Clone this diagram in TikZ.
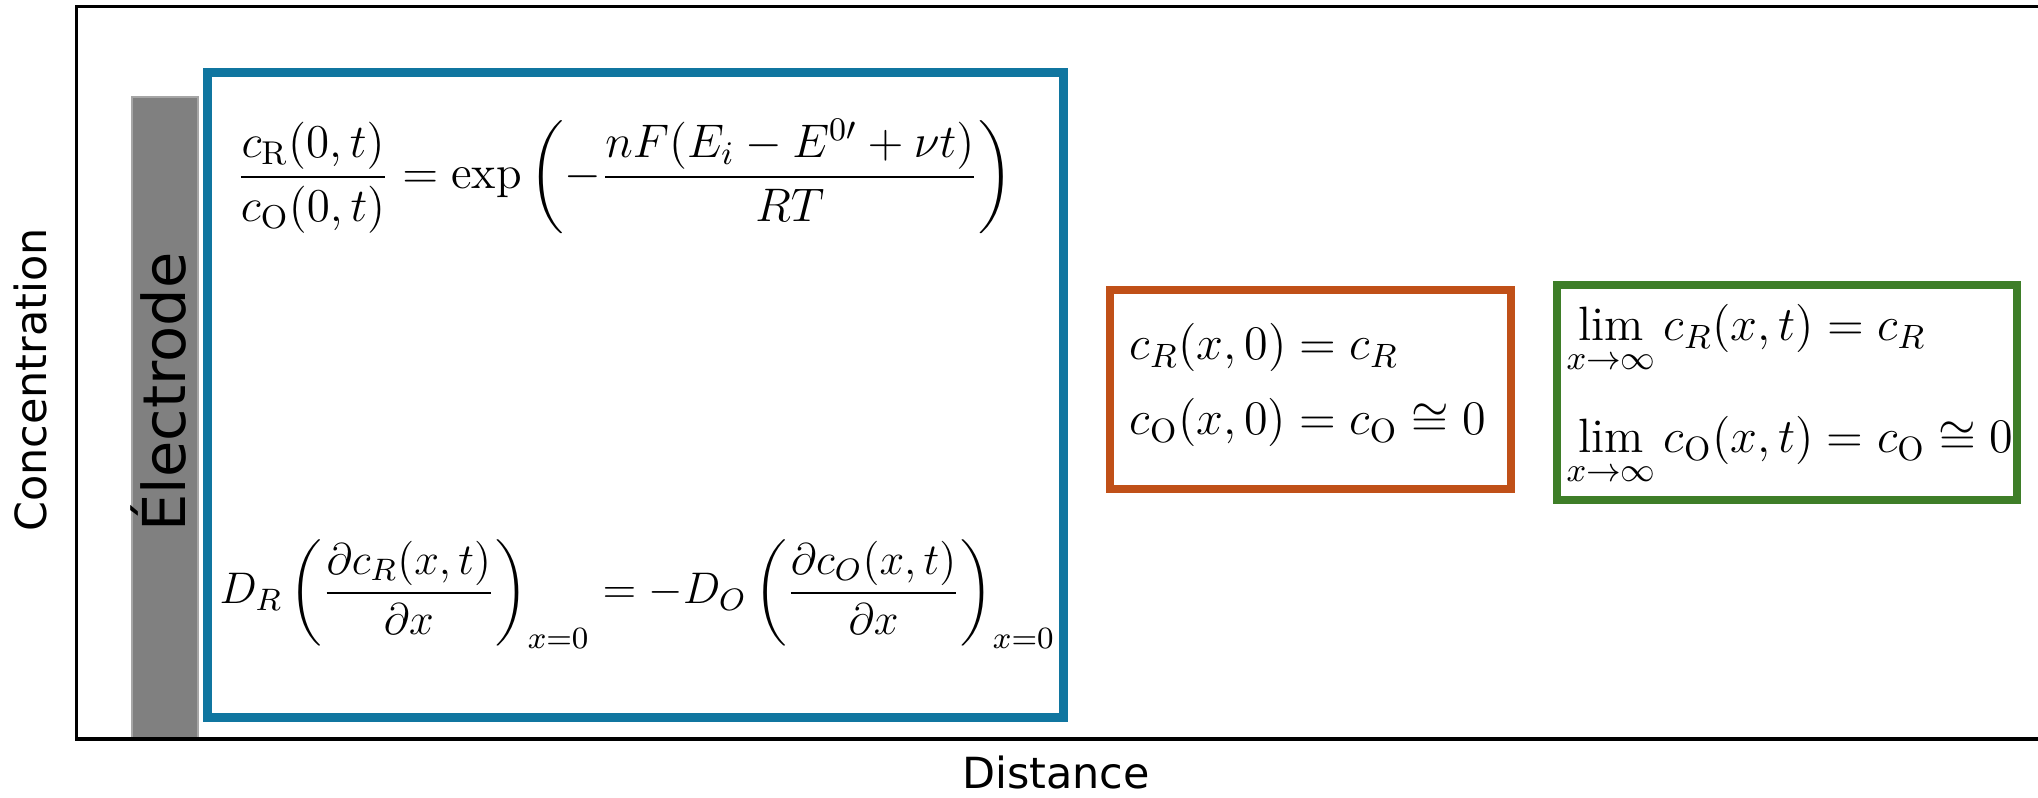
\RequirePackage{fix-cm}
\documentclass[tikz,border=0pt]{standalone}
\usepackage{amsmath}
\usepackage{amssymb}
\usepackage{fontspec}
\usepackage{tikz}
\usetikzlibrary{positioning}
\newfontfamily\labelfont{DejaVu Sans}
\definecolor{cBlue}{RGB}{16,118,160}
\definecolor{cOrange}{RGB}{192,80,24}
\definecolor{cGreen}{RGB}{62,126,40}
\definecolor{cElec}{RGB}{128,128,128}
\tikzset{
	eqbox/.style    ={draw, line width=0.08cm},
	axislabel/.style={font=\labelfont\fontsize{12.2}{14}\selectfont, inner sep=0pt, anchor=base},
	eqn/.style      ={inner sep=0pt, anchor=base west},
	bigeq/.style    ={eqn, font=\fontsize{13.4}{16}\selectfont},
	smalleq/.style  ={eqn, font=\fontsize{13.7}{17}\selectfont},
}

\begin{document}
\begin{tikzpicture}[x=0.01cm, y=-0.01cm]
	\useasboundingbox (0,0) rectangle (2038,798);
	% electrode
	\filldraw[fill=cElec, draw=cElec!70, line width=0.02cm] (132,97) rectangle (198,740);
	\node[axislabel, rotate=90, font=\labelfont\fontsize{16.8}{19}\selectfont] (elec) at (185,392) {Électrode};
	% axes
	\draw[line width=0.035cm] (2038,6.5) -- (76.5,6.5) -- (76.5,739) -- (2038,739);
	\node[axislabel, rotate=90] (ylab) at (47,380) {Concentration};
	\node[axislabel] (xlab) at (1056,789) {Distance};
	% boundary conditions at the electrode
	\draw[eqbox, cBlue, line width=0.09cm] (207.5,72.5) rectangle (1063.5,717.5);
	\node[bigeq] (nernst) at (236,189) {$\displaystyle \frac{c_{\mathrm{R}}(0,t)}{c_{\mathrm{O}}(0,t)} = \exp\left(-\frac{nF(E_i - E^{0\prime} + \nu t)}{RT}\right)$};
	\node[bigeq, font=\fontsize{12.6}{15}\selectfont] (flux) at (219,604) {$\displaystyle D_R\left(\frac{\partial c_R(x,t)}{\partial x}\right)_{x=0} = -D_O\left(\frac{\partial c_O(x,t)}{\partial x}\right)_{x=0}$};
	% initial conditions
	\draw[eqbox, cOrange] (1110,290) rectangle (1511,489);
	\node[smalleq] (initR) at (1129,360) {$c_R(x,0) = c_R$};
	\node[smalleq] (initO) at (1129,435) {$c_{\mathrm{O}}(x,0) = c_{\mathrm{O}} \cong 0$};
	% semi-infinite conditions
	\draw[eqbox, cGreen] (1557,285) rectangle (2017,500);
	\node[smalleq] (limR) at (1566,341) {$\displaystyle \lim_{x\to\infty} c_R(x,t) = c_R$};
	\node[smalleq] (limO) at (1566,453) {$\displaystyle \lim_{x\to\infty} c_{\mathrm{O}}(x,t) = c_{\mathrm{O}} \cong 0$};
\end{tikzpicture}
\end{document}
